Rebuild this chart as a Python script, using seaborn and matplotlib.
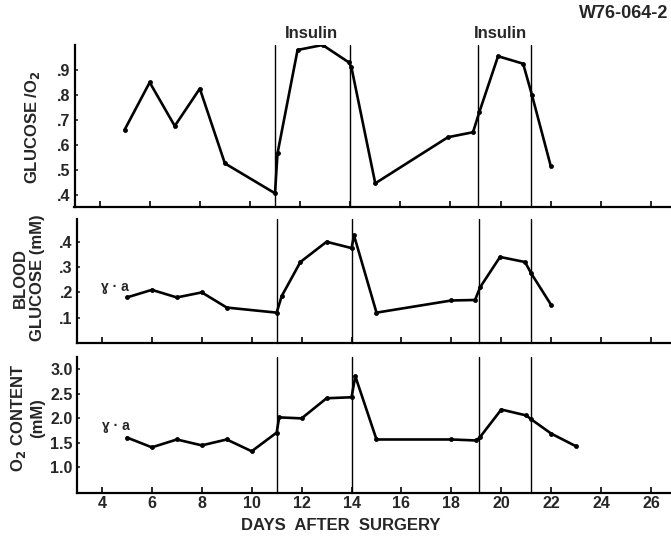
import matplotlib
matplotlib.use("Agg")
import matplotlib.pyplot as plt
import seaborn as sns
import pandas as pd
from matplotlib.ticker import FuncFormatter

sns.set_style("ticks")
plt.rcParams['font.family'] = ['Liberation Sans', 'DejaVu Sans']
plt.rcParams['font.weight'] = 'bold'

# ---- data ----
ratio_days = [5, 6, 7, 8, 9, 11, 11.1, 11.9, 12.9, 13.95, 14.05, 15, 17.9, 18.9, 19.15, 19.9, 20.9, 21.25, 22]
ratio_vals = [0.66, 0.85, 0.675, 0.825, 0.525, 0.405, 0.565, 0.98, 1.0, 0.93, 0.91, 0.445, 0.63, 0.65, 0.73, 0.955, 0.925, 0.80, 0.515]

gluc_days = [5, 6, 7, 8, 9, 11, 11.2, 11.95, 13, 14, 14.1, 15, 18, 18.95, 19.15, 19.95, 20.95, 21.2, 22]
gluc_vals = [0.18, 0.21, 0.18, 0.20, 0.14, 0.12, 0.185, 0.32, 0.40, 0.375, 0.425, 0.12, 0.168, 0.17, 0.22, 0.34, 0.32, 0.275, 0.15]

o2_days = [5, 6, 7, 8, 9, 10, 11, 11.1, 12, 13, 14, 14.15, 15, 18, 19, 19.15, 20, 21, 21.2, 22, 23]
o2_vals = [1.61, 1.41, 1.57, 1.45, 1.57, 1.33, 1.71, 2.02, 2.0, 2.41, 2.43, 2.86, 1.57, 1.57, 1.55, 1.62, 2.18, 2.06, 1.98, 1.69, 1.43]

insulin_lines = [11.0, 14.0, 19.1, 21.2]
insulin_label_x = [12.45, 20.0]
x_ticks = [4, 6, 8, 10, 12, 14, 16, 18, 20, 22, 24, 26]

ratio_ticks = [0.4, 0.5, 0.6, 0.7, 0.8, 0.9]
gluc_ticks = [0.1, 0.2, 0.3, 0.4]
o2_ticks = [1.0, 1.5, 2.0, 2.5, 3.0]

W, H = 671, 539
fig = plt.figure(figsize=(W / 100, H / 100), dpi=100)

def ax_at(left, top, bottom, right=671):
    return fig.add_axes([left / W, 1 - bottom / H, (right - left) / W, (bottom - top) / H])

ax1 = ax_at(74.5, 45, 207)
ax2 = ax_at(77, 219, 343)
ax3 = ax_at(77, 357, 493)

xlim = (3.0, 26.8)
fs_tick = 11.5
fs = 12

def style(ax, ylim, yticks, fmt, show_xlabels):
    ax.set_xlim(*xlim)
    ax.set_ylim(*ylim)
    ax.set_xticks(x_ticks)
    ax.set_yticks(yticks)
    ax.yaxis.set_major_formatter(FuncFormatter(fmt))
    ax.tick_params(axis='x', direction='in', length=4, width=1.4, pad=2,
                   labelbottom=show_xlabels, labelsize=fs_tick)
    ax.tick_params(axis='y', direction='in', length=2, width=1.2, pad=3, labelsize=fs_tick)
    for lab in ax.get_xticklabels() + ax.get_yticklabels():
        lab.set_fontweight('bold')
    for s in ['top', 'right']:
        ax.spines[s].set_visible(False)
    for s in ['left', 'bottom']:
        ax.spines[s].set_linewidth(1.6)
        ax.spines[s].set_color('black')
    ax.set_xlabel('')
    ax.set_ylabel('')
    for xv in insulin_lines:
        ax.axvline(xv, color='black', lw=1.0, clip_on=False)

nolead = lambda v, p: ('%.1f' % v).lstrip('0')
onedec = lambda v, p: '%.1f' % v

for ax, d, v in [(ax1, ratio_days, ratio_vals), (ax2, gluc_days, gluc_vals), (ax3, o2_days, o2_vals)]:
    df = pd.DataFrame({'day': d, 'val': v})
    sns.lineplot(data=df, x='day', y='val', ax=ax, color='black', lw=1.9,
                 marker='o', markersize=3.5, markeredgewidth=0, estimator=None, sort=False)

style(ax1, (0.35, 1.0), ratio_ticks, nolead, False)
style(ax2, (0.0, 0.49), gluc_ticks, nolead, False)
style(ax3, (0.48, 3.25), o2_ticks, onedec, True)

for xv in insulin_label_x:
    ax1.text(xv, 1.025, 'Insulin', ha='center', va='bottom', fontsize=fs,
             fontweight='bold', transform=ax1.get_xaxis_transform())

fig.text(668 / W, 1 - 14 / H, 'W76-064-2', ha='right', va='center', fontsize=13, fontweight='bold')

fig.text(33 / W, 1 - 127 / H, 'GLUCOSE /O$_\\mathbf{2}$', rotation=90, ha='center', va='center',
         fontsize=fs, fontweight='bold')
fig.text(29 / W, 1 - 278 / H, 'BLOOD\nGLUCOSE (mM)', rotation=90, ha='center', va='center',
         fontsize=fs, fontweight='bold', linespacing=1.2)
fig.text(27 / W, 1 - 418 / H, 'O$_\\mathbf{2}$ CONTENT\n(mM)', rotation=90, ha='center', va='center',
         fontsize=fs, fontweight='bold', linespacing=1.2)

ax2.text(3.95, 0.22, 'ɣ · a', fontsize=10, fontweight='bold', va='center')
ax3.text(4.0, 1.84, 'ɣ · a', fontsize=10, fontweight='bold', va='center')

fig.text(341 / W, 1 - 525 / H, 'DAYS  AFTER  SURGERY',
         ha='center', va='center', fontsize=fs, fontweight='bold')

fig.savefig('out.png', dpi=100)
